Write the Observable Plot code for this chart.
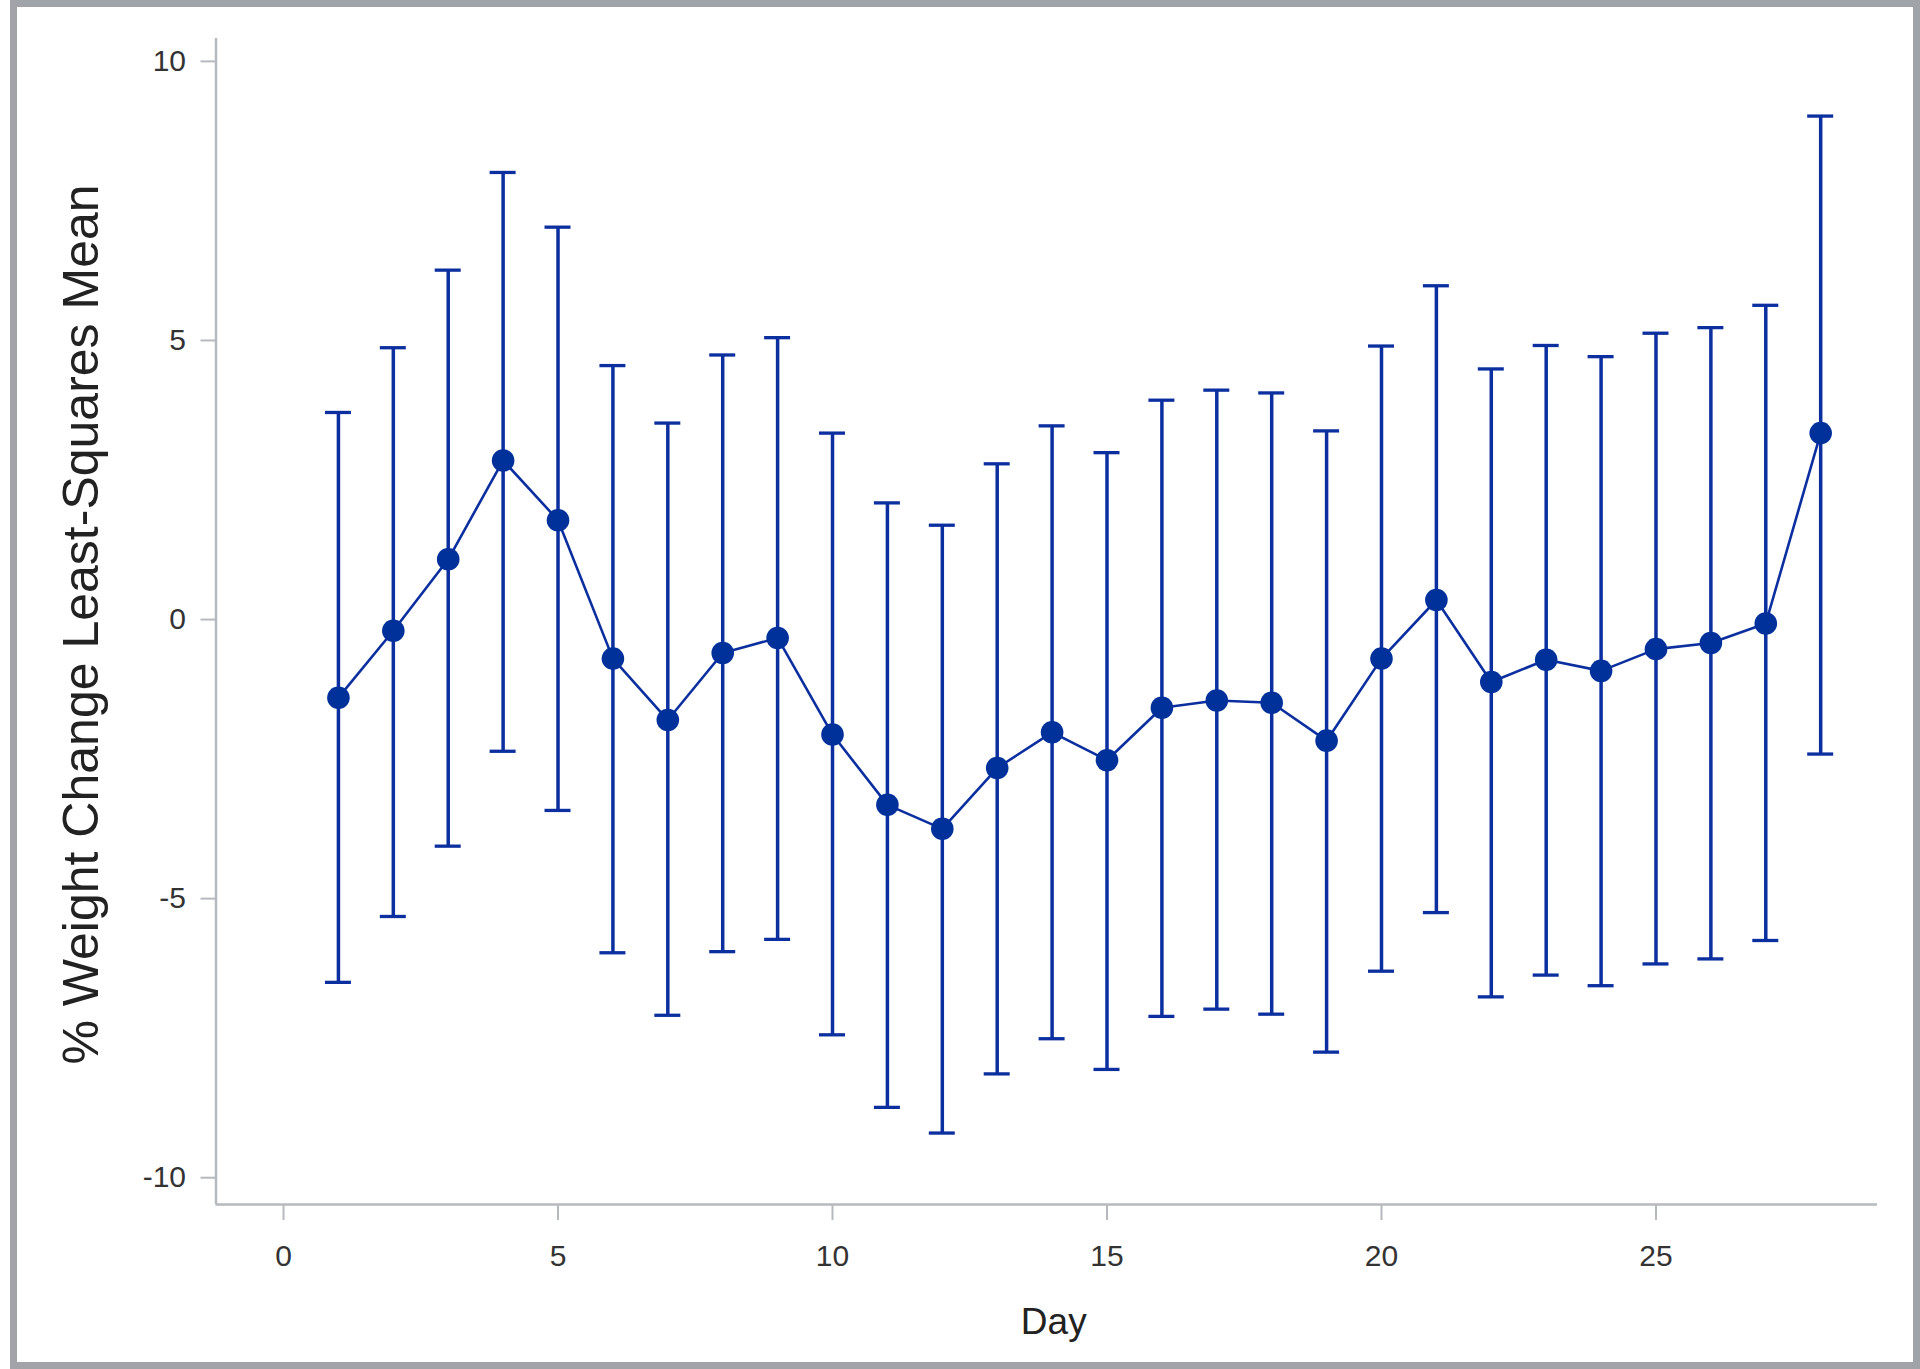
<!DOCTYPE html>
<html>
<head>
<meta charset="utf-8">
<script src="https://cdn.jsdelivr.net/npm/d3@7"></script>
<script src="https://cdn.jsdelivr.net/npm/@observablehq/plot@0.6"></script>
<style>
  html, body { margin: 0; padding: 0; background: #ffffff; overflow: hidden; }
  #chart { position: absolute; left: 0; top: 0; width: 1920px; height: 1369px; }
  #frame { position: absolute; left: 10px; top: 0; width: 1910px; height: 1369px;
           border: 7px solid #a0a4a8; box-sizing: border-box; pointer-events: none; }
</style>
</head>
<body>
<div id="chart"></div>
<div id="frame"></div>
<script>
// ---- data ----
const days = [1,2,3,4,5,6,7,8,9,10,11,12,13,14,15,16,17,18,19,20,21,22,23,24,25,26,27,28];
const lsMeans = [-1.40,-0.20,1.08,2.85,1.78,-0.70,-1.80,-0.60,-0.33,-2.06,-3.32,-3.75,-2.66,-2.02,-2.52,-1.58,-1.45,-1.49,-2.17,-0.70,0.35,-1.12,-0.72,-0.92,-0.53,-0.42,-0.07,3.34];
const upperCL = [3.71,4.87,6.26,8.01,7.03,4.55,3.52,4.74,5.05,3.34,2.09,1.69,2.79,3.47,2.99,3.93,4.11,4.06,3.38,4.90,5.98,4.49,4.91,4.71,5.13,5.23,5.63,9.02];
const lowerCL = [-6.50,-5.32,-4.06,-2.36,-3.42,-5.97,-7.09,-5.95,-5.73,-7.44,-8.74,-9.20,-8.14,-7.51,-8.06,-7.11,-6.98,-7.07,-7.75,-6.30,-5.25,-6.76,-6.37,-6.56,-6.17,-6.08,-5.75,-2.41];
const xTicks = [0,5,10,15,20,25];
const yTicks = [-10,-5,0,5,10];
const xLabel = "Day";
const yLabel = "% Weight Change Least-Squares Mean";

// ---- styling ----
const blue = "#0b2f9f";
const axisGray = "#b6babe";
const textColor = "#333333";
const xDomain = [-1.23, 29.035];
const yDomain = [-10.48, 10.41];
const capHalf = 13 / 54.9; // half cap width in x units

const rows = days.map((d, i) => ({day: d, mean: lsMeans[i], upper: upperCL[i], lower: lowerCL[i]}));

const chart = Plot.plot({
  width: 1920,
  height: 1369,
  marginLeft: 215.5,
  marginRight: 43,
  marginTop: 38,
  marginBottom: 165,
  style: {fontFamily: "'Liberation Sans', Arial, sans-serif", background: "transparent", overflow: "visible"},
  x: {domain: xDomain},
  y: {domain: yDomain},
  marks: [
    Plot.ruleX([xDomain[0]], {stroke: axisGray, strokeWidth: 2.5}),
    Plot.ruleY([yDomain[0]], {stroke: axisGray, strokeWidth: 2.5}),
    Plot.axisY(yTicks, {tickSize: 15, tickPadding: 15, fontSize: 30, tickFormat: d => String(d),
      stroke: axisGray, strokeWidth: 2, fill: textColor, label: null}),
    Plot.axisX(xTicks, {tickSize: 16, tickPadding: 24, fontSize: 30, tickFormat: d => String(d),
      stroke: axisGray, strokeWidth: 2, fill: textColor, label: null}),
    Plot.text([yLabel], {text: d => d, frameAnchor: "left", rotate: -90, textAnchor: "middle",
      dx: -134, dy: 3, fontSize: 50, fill: "#222222"}),
    Plot.text([xLabel], {text: d => d, frameAnchor: "bottom", textAnchor: "middle", lineAnchor: "bottom",
      dx: 7, dy: 129, fontSize: 37, fill: "#222222"}),
    Plot.ruleX(rows, {x: "day", y1: "lower", y2: "upper", stroke: blue, strokeWidth: 3.5}),
    Plot.ruleY(rows, {y: "upper", x1: d => d.day - capHalf, x2: d => d.day + capHalf, stroke: blue, strokeWidth: 3.3}),
    Plot.ruleY(rows, {y: "lower", x1: d => d.day - capHalf, x2: d => d.day + capHalf, stroke: blue, strokeWidth: 3.3}),
    Plot.line(rows, {x: "day", y: "mean", stroke: blue, strokeWidth: 2.6}),
    Plot.dot(rows, {x: "day", y: "mean", r: 11.3, fill: "#00309a", stroke: "none"})
  ]
});
document.getElementById("chart").appendChild(chart);
</script>
</body>
</html>
